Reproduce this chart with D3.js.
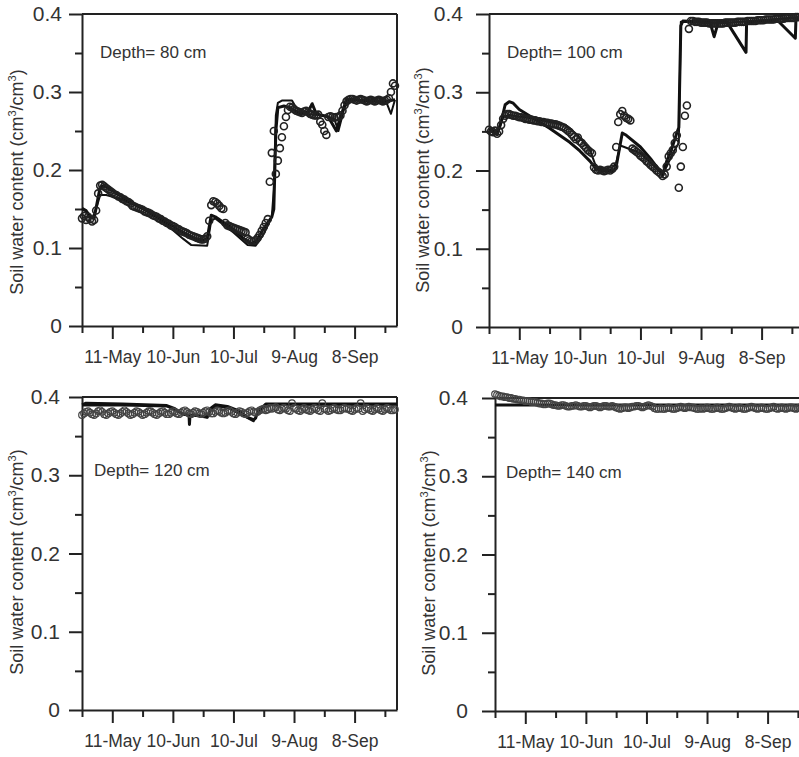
<!DOCTYPE html>
<html><head><meta charset="utf-8">
<script src="https://cdn.jsdelivr.net/npm/d3@7"></script>
<style>
body{margin:0;background:#fff}
svg{display:block}
text{font-family:"Liberation Sans",Arial,Helvetica,sans-serif;fill:#333}
</style>
</head><body>
<svg id="c" width="799" height="757"></svg>
<script>
// ---------- data ----------
const startDate = new Date(2013, 3, 26);   // 26-Apr (first minor tick)
const spanDays = 156;
const majorTickDates = [new Date(2013,4,11), new Date(2013,5,10), new Date(2013,6,10), new Date(2013,7,9), new Date(2013,8,8)];
const minorTickDates = [new Date(2013,3,26), new Date(2013,4,26), new Date(2013,5,25), new Date(2013,6,25), new Date(2013,7,24), new Date(2013,8,23)];
const yMajor = [0, 0.1, 0.2, 0.3, 0.4];
const yMinor = [0.05, 0.15, 0.25, 0.35];
const depthLabels = ["Depth= 80 cm", "Depth= 100 cm", "Depth= 120 cm", "Depth= 140 cm"];

// observed (daily, day index 0 = 26-Apr)
const obs80 = [
 0.138,0.141,0.136,0.140,0.137,0.134,0.136,0.148,0.170,0.180,
 0.181,0.179,0.177,0.175,0.173,0.171,0.169,0.168,0.166,0.165,
 0.163,0.162,0.160,0.159,0.157,0.154,0.153,0.152,0.151,0.150,
 0.149,0.147,0.146,0.145,0.144,0.142,0.141,0.140,0.138,0.137,
 0.135,0.134,0.132,0.131,0.129,0.128,0.127,0.125,0.124,0.122,
 0.121,0.120,0.119,0.117,0.116,0.115,0.114,0.113,0.112,0.111,
 0.111,0.112,0.115,0.135,0.155,0.160,0.159,0.157,0.154,0.151,
 0.150,0.132,0.129,0.128,0.127,0.126,0.125,0.124,0.123,0.122,
 0.121,0.120,0.112,0.110,0.109,0.109,0.110,0.113,0.117,0.122,
 0.127,0.132,0.137,0.185,0.222,0.250,0.195,0.212,0.228,0.242,
 0.256,0.268,0.277,0.281,0.280,0.278,0.276,0.275,0.274,0.273,
 0.275,0.276,0.274,0.272,0.271,0.270,0.270,0.271,0.262,0.258,
 0.250,0.245,0.268,0.269,0.268,0.267,0.268,0.268,0.270,0.276,
 0.283,0.288,0.290,0.291,0.291,0.290,0.289,0.290,0.291,0.290,
 0.289,0.288,0.289,0.290,0.289,0.288,0.289,0.290,0.289,0.288,
 0.289,0.290,0.292,0.300,0.311,0.308];
const obs100 = [
 0.252,0.250,0.249,0.251,0.247,0.250,0.258,0.266,0.270,0.272,
 0.272,0.271,0.270,0.270,0.269,0.268,0.268,0.267,0.266,0.266,
 0.265,0.265,0.264,0.264,0.263,0.263,0.262,0.262,0.261,0.261,
 0.260,0.260,0.259,0.259,0.258,0.257,0.256,0.255,0.253,0.251,
 0.249,0.246,0.243,0.240,0.242,0.237,0.235,0.232,0.229,0.226,
 0.224,0.222,0.204,0.201,0.200,0.201,0.200,0.199,0.200,0.201,
 0.200,0.202,0.205,0.230,0.262,0.272,0.276,0.270,0.267,0.266,
 0.264,0.228,0.226,0.224,0.222,0.219,0.217,0.215,0.212,0.210,
 0.207,0.205,0.203,0.200,0.198,0.196,0.193,0.195,0.205,0.218,
 0.222,0.226,0.235,0.245,0.178,0.205,0.230,0.270,0.283,0.381,
 0.391,0.391,0.390,0.390,0.390,0.389,0.389,0.389,0.389,0.388,
 0.388,0.388,0.388,0.388,0.388,0.388,0.388,0.389,0.389,0.389,
 0.389,0.389,0.389,0.390,0.390,0.390,0.390,0.390,0.391,0.391,
 0.391,0.391,0.391,0.392,0.392,0.392,0.392,0.393,0.393,0.393,
 0.393,0.393,0.394,0.394,0.394,0.394,0.394,0.395,0.395,0.395,
 0.395,0.395,0.396,0.396,0.396,0.396];
const obs120 = [
 0.377,0.379,0.381,0.382,0.380,0.378,0.377,0.379,0.382,0.383,
 0.381,0.378,0.377,0.379,0.381,0.382,0.380,0.378,0.377,0.379,
 0.381,0.383,0.381,0.379,0.377,0.378,0.380,0.382,0.381,0.379,
 0.377,0.378,0.380,0.382,0.382,0.380,0.378,0.377,0.379,0.381,
 0.382,0.380,0.378,0.378,0.380,0.382,0.381,0.379,0.378,0.380,
 0.382,0.383,0.381,0.379,0.378,0.380,0.382,0.381,0.379,0.378,
 0.380,0.382,0.383,0.381,0.379,0.379,0.381,0.383,0.382,0.380,
 0.379,0.380,0.382,0.383,0.381,0.379,0.378,0.380,0.382,0.381,
 0.379,0.378,0.380,0.382,0.383,0.381,0.380,0.381,0.383,0.384,
 0.385,0.383,0.384,0.386,0.385,0.386,0.387,0.384,0.383,0.385,
 0.386,0.385,0.383,0.382,0.392,0.386,0.385,0.383,0.382,0.384,
 0.386,0.384,0.383,0.382,0.384,0.386,0.385,0.383,0.382,0.392,
 0.385,0.384,0.382,0.383,0.385,0.386,0.384,0.383,0.383,0.385,
 0.386,0.385,0.385,0.383,0.382,0.384,0.386,0.385,0.392,0.382,
 0.384,0.386,0.385,0.383,0.382,0.384,0.386,0.385,0.383,0.382,
 0.384,0.386,0.385,0.383,0.383,0.384];
const obs140 = [
 0.405,0.404,0.403,0.402,0.402,0.401,0.401,0.400,0.400,0.399,
 0.399,0.398,0.398,0.397,0.397,0.396,0.396,0.396,0.395,0.395,
 0.395,0.394,0.393,0.393,0.392,0.392,0.393,0.393,0.392,0.391,
 0.391,0.390,0.390,0.391,0.391,0.390,0.389,0.389,0.390,0.390,
 0.391,0.390,0.389,0.389,0.390,0.390,0.389,0.388,0.389,0.390,
 0.390,0.389,0.388,0.389,0.390,0.390,0.389,0.389,0.390,0.389,
 0.388,0.387,0.386,0.387,0.388,0.388,0.387,0.388,0.389,0.389,
 0.390,0.390,0.389,0.388,0.389,0.390,0.391,0.390,0.389,0.387,
 0.386,0.386,0.387,0.386,0.386,0.387,0.388,0.387,0.386,0.386,
 0.387,0.388,0.389,0.388,0.387,0.388,0.389,0.388,0.388,0.387,
 0.386,0.386,0.387,0.386,0.387,0.388,0.387,0.386,0.386,0.387,
 0.388,0.387,0.386,0.386,0.387,0.388,0.389,0.388,0.387,0.386,
 0.387,0.388,0.387,0.386,0.386,0.387,0.388,0.389,0.388,0.387,
 0.386,0.387,0.388,0.387,0.386,0.386,0.387,0.388,0.389,0.387,
 0.386,0.387,0.388,0.387,0.386,0.387,0.388,0.388,0.387,0.386,
 0.387,0.388,0.387,0.387,0.386,0.387];

// simulated ([day index, value])
const sim80a = [[0,0.151],[2,0.148],[4,0.140],[6,0.138],[8,0.165],[9,0.178],[11,0.180],[20,0.165],[30,0.151],[40,0.136],[50,0.120],[55,0.113],[60,0.110],[62,0.112],[64,0.142],[66,0.140],[75,0.124],[80,0.112],[84,0.106],[86,0.108],[90,0.125],[94,0.140],[95,0.150],[96,0.250],[97,0.280],[100,0.282],[103,0.280],[108,0.272],[112,0.275],[114,0.285],[116,0.272],[122,0.268],[126,0.250],[128,0.268],[131,0.290],[140,0.289],[150,0.288],[155,0.290]];
const sim80b = [[0,0.150],[3,0.145],[5,0.138],[7,0.150],[9,0.168],[12,0.168],[20,0.162],[30,0.150],[40,0.134],[50,0.112],[54,0.104],[62,0.103],[64,0.135],[66,0.138],[75,0.120],[82,0.104],[86,0.103],[90,0.118],[94,0.140],[95,0.175],[96,0.270],[97,0.286],[99,0.289],[104,0.289],[106,0.280],[110,0.272],[120,0.270],[125,0.265],[127,0.250],[130,0.280],[133,0.291],[145,0.288],[151,0.285],[153,0.272],[155,0.290]];
const sim100a = [[0,0.253],[2,0.250],[4,0.246],[6,0.262],[8,0.284],[10,0.288],[12,0.286],[15,0.278],[20,0.270],[25,0.262],[30,0.254],[35,0.245],[40,0.236],[45,0.225],[50,0.212],[53,0.202],[57,0.200],[62,0.200],[63,0.205],[66,0.248],[68,0.245],[75,0.230],[80,0.215],[85,0.198],[86,0.194],[88,0.212],[90,0.224],[93,0.248],[94,0.255],[95,0.385],[96,0.391],[105,0.390],[109.5,0.389],[111.5,0.371],[113.5,0.389],[118,0.389],[127.3,0.351],[127.6,0.390],[135,0.391],[142.8,0.392],[151.7,0.369],[152,0.393],[155,0.394]];
const sim100b = [[0,0.252],[3,0.249],[5,0.252],[7,0.268],[10,0.271],[20,0.267],[30,0.262],[38,0.258],[44,0.245],[50,0.226],[53,0.205],[60,0.200],[63,0.210],[65,0.232],[67,0.230],[75,0.222],[80,0.210],[86,0.195],[88,0.205],[91,0.222],[94,0.235],[95,0.390],[105,0.389],[120,0.389],[135,0.392],[155,0.396]];
const sim120a = [[0,0.390],[2,0.392],[20,0.391],[42,0.389],[46,0.385],[50,0.378],[53,0.377],[53.2,0.365],[53.5,0.377],[58,0.376],[62,0.374],[64,0.386],[66,0.390],[72,0.388],[78,0.382],[82,0.374],[85,0.371],[86,0.373],[87,0.382],[89,0.386],[91,0.391],[156,0.391]];
const sim120b = [[0,0.389],[20,0.389],[42,0.388],[47,0.382],[52,0.377],[60,0.375],[62,0.374],[64,0.384],[66,0.388],[72,0.386],[80,0.376],[85,0.369],[87,0.380],[90,0.386],[93,0.390],[156,0.390]];
const sim140a = [[0,0.391],[156,0.391]];

// ---------- layout ----------
const panels = [
 {obs: obs80,  sims: [sim80a, sim80b],   left: 82,  top: 14,  bottom: 326, labGap: 20, titleX: 23,  titleY: 182, textX: 100, textY: 58,  heavy: true},
 {obs: obs100, sims: [sim100a, sim100b], left: 489, top: 14,  bottom: 327, labGap: 26, titleX: 429, titleY: 180, textX: 507, textY: 58,  heavy: true},
 {obs: obs120, sims: [sim120a, sim120b], left: 82,  top: 397, bottom: 710, labGap: 22, titleX: 23,  titleY: 562, textX: 94,  textY: 476, heavy: false},
 {obs: obs140, sims: [sim140a],          left: 495, top: 398, bottom: 711, labGap: 27, titleX: 435, titleY: 563, textX: 506, textY: 478, heavy: false}
];
const plotW = 315;

const svg = d3.select("#c");
const fmtDate = d3.timeFormat("%-d-%b");
const FONT = '"Liberation Sans", Arial, sans-serif';

panels.forEach((p, i) => {
  const x = d3.scaleTime().domain([startDate, d3.timeDay.offset(startDate, spanDays)]).range([p.left, p.left + plotW]);
  const y = d3.scaleLinear().domain([0, 0.4]).range([p.bottom, p.top]);
  const dx = d => d3.timeHour.offset(startDate, Math.round(d * 24));
  const g = svg.append("g");

  // frame
  const frame = g.append("g").attr("stroke", "#222").attr("stroke-width", 2).attr("fill", "none");
  frame.append("line").attr("x1", x.range()[0]).attr("x2", x.range()[1]).attr("y1", y(0.4)).attr("y2", y(0.4));
  frame.append("line").attr("x1", x.range()[1]).attr("x2", x.range()[1]).attr("y1", y(0.4)).attr("y2", y(0));

  // y axis
  const yAx = g.append("g").attr("transform", `translate(${p.left},0)`)
    .call(d3.axisLeft(y).tickValues(yMajor).tickSize(13).tickSizeOuter(0).tickPadding(p.labGap - 13)
      .tickFormat(d => d === 0 ? "0" : d3.format(".1f")(d)));
  g.append("g").attr("transform", `translate(${p.left},0)`)
    .call(d3.axisLeft(y).tickValues(yMinor).tickSize(7).tickSizeOuter(0).tickFormat(""))
    .select(".domain").remove();

  // x axis
  const xAx = g.append("g").attr("transform", `translate(0,${p.bottom})`)
    .call(d3.axisBottom(x).tickValues(majorTickDates).tickSize(13).tickSizeOuter(0).tickPadding(12).tickFormat(fmtDate));
  g.append("g").attr("transform", `translate(0,${p.bottom})`)
    .call(d3.axisBottom(x).tickValues(minorTickDates).tickSize(7).tickSizeOuter(0).tickFormat(""))
    .select(".domain").remove();

  g.selectAll(".domain, .tick line").attr("stroke", "#222").attr("stroke-width", 2);
  yAx.selectAll("text").attr("font-size", 21).attr("fill", "#333").style("font-family", FONT);
  xAx.selectAll("text").attr("font-size", 17.5).attr("fill", "#333").style("font-family", FONT);

  // simulated lines
  const line = d3.line().x(d => x(dx(d[0]))).y(d => y(d[1]));
  p.sims.forEach((s, k) => {
    g.append("path").datum(s).attr("d", line).attr("fill", "none")
      .attr("stroke", "#111").attr("stroke-width", k === 0 ? 3 : 2).attr("stroke-linejoin", "round");
  });

  // observed circles
  g.append("g").selectAll("circle").data(p.obs).join("circle")
    .attr("cx", (d, j) => x(dx(j))).attr("cy", d => y(d)).attr("r", p.heavy ? 3.5 : 3.3)
    .attr("fill", "none").attr("stroke", p.heavy ? "#222" : "#444").attr("stroke-width", p.heavy ? 1.6 : 1.2);

  // depth label
  g.append("text").attr("x", p.textX).attr("y", p.textY).attr("font-size", 17).text(depthLabels[i]);

  // y title
  const t = g.append("text").attr("transform", `translate(${p.titleX},${p.titleY}) rotate(-90)`)
    .attr("text-anchor", "middle").attr("font-size", 18);
  t.append("tspan").text("Soil water content (cm");
  t.append("tspan").attr("font-size", 11).attr("dy", -7).text("3");
  t.append("tspan").attr("dy", 7).text("/cm");
  t.append("tspan").attr("font-size", 11).attr("dy", -7).text("3");
  t.append("tspan").attr("dy", 7).text(")");
});
</script>
</body></html>
